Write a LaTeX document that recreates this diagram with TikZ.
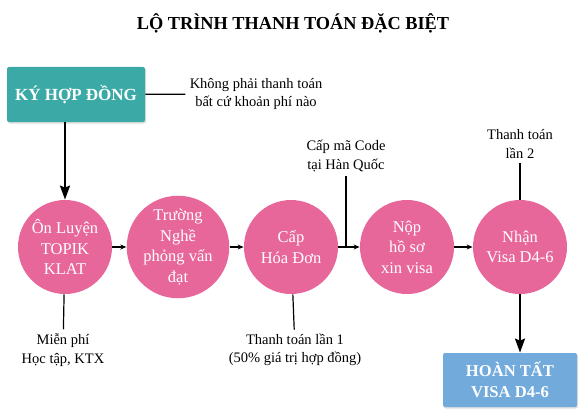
\documentclass[tikz,border=0pt]{standalone}
\usepackage{fontspec}
\setmainfont{Liberation Serif}
\usetikzlibrary{arrows.meta,positioning,shadows}
\definecolor{tealbox}{HTML}{3BA9A6}
\definecolor{pinkstep}{HTML}{E8679A}
\definecolor{bluebox}{HTML}{72AADB}
\begin{document}
\begin{tikzpicture}[x=1pt, y=-1pt, thick,
    main/.style = {circle, fill=pinkstep, text=white, minimum size=94pt, inner sep=0pt, align=center, font=\fontsize{16.5}{20.5}\selectfont},
    box/.style = {rounded corners=2pt, text=white, align=center, inner sep=0pt, font=\bfseries\fontsize{17}{21}\selectfont, drop shadow={opacity=0.25, shadow xshift=1pt, shadow yshift=-1.5pt}},
    note/.style = {align=center, inner sep=4pt, font=\fontsize{14.5}{18.5}\selectfont},
    link/.style = {-{Stealth[length=6pt,width=5pt]}, line width=1.2pt},
    bigarrow/.style = {-{Stealth[length=14pt,width=10pt,inset=2pt]}, line width=2.2pt}]
\useasboundingbox (0,0) rectangle (588,417);
% title
\node (title) at (293,23) {\bfseries\fontsize{18.3}{20}\selectfont LỘ TRÌNH THANH TOÁN ĐẶC BIỆT};
% boxes
\node[box, fill=tealbox, minimum width=138pt, minimum height=55pt] (sign) at (76,94.5) {KÝ HỢP ĐỒNG};
\node[box, fill=bluebox, minimum width=134pt, minimum height=54pt, font=\bfseries\fontsize{16.6}{21}\selectfont] (done) at (510,380) {HOÀN TẤT\\VISA D4-6};
% steps
\node[main] (1) at (65,247) {Ôn Luyện\\TOPIK\\KLAT};
\node[main] (2) at (178,247) {Trường\\Nghề\\phỏng vấn\\đạt};
\node[main] (3) at (291,247) {Cấp\\Hóa Đơn};
\node[main] (4) at (407,247) {Nộp\\hồ sơ\\xin visa};
\node[main] (5) at (520,247) {Nhận\\Visa D4-6};
% notes
\node[note] (nofee) at (256,94) {Không phải thanh toán\\bất cứ khoản phí nào};
\node[note] (code) at (346,156) {Cấp mã Code\\tại Hàn Quốc};
\node[note] (pay2) at (520,144) {Thanh toán\\lần 2};
\node[note] (free) at (63,350) {Miễn phí\\Học tập, KTX};
\node[note] (pay1) at (295,350) {Thanh toán lần 1\\(50\% giá trị hợp đồng)};
\coordinate (join) at (code.south |- 3.east);
% connectors
\draw[bigarrow] (1.north |- sign.south) -- (1);
\draw[link] (1) -- (2);
\draw[link] (2) -- (3);
\draw[link] (3) -- (4);
\draw[link] (4) -- (5);
\draw[bigarrow] (5) -- (5.south |- done.north);
\draw[line width=1.2pt] (sign) -- (nofee);
\draw[line width=1.2pt] (code) -- (join);
\draw[line width=1.2pt] (pay2) -- (5);
\draw[line width=1.2pt] (1) -- (free);
\draw[line width=1.2pt] (3) -- (pay1);
\end{tikzpicture}
\end{document}
